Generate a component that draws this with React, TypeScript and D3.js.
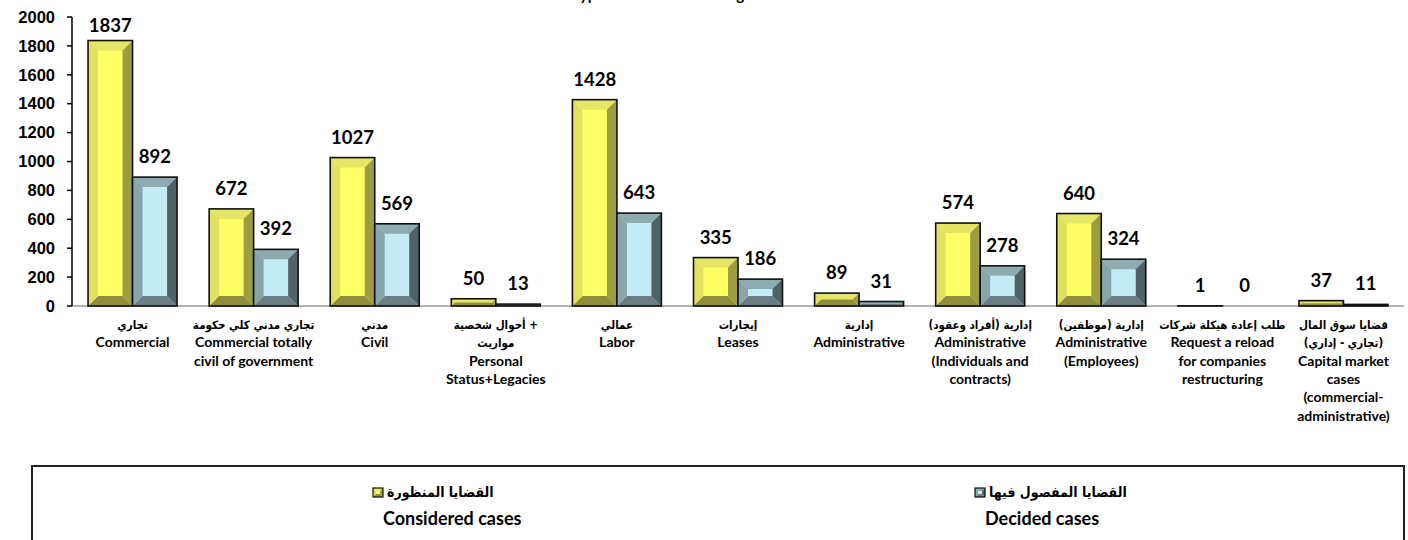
import React, { useLayoutEffect } from "react";
import * as d3 from "d3";

const categories: string[][] = [
  ["تجاري", "Commercial"],
  ["تجاري مدني كلي حكومة", "Commercial totally", "civil of government"],
  ["مدني", "Civil"],
  ["+ أحوال شخصية", "مواريث", "Personal", "Status+Legacies"],
  ["عمالي", "Labor"],
  ["إيجارات", "Leases"],
  ["إدارية", "Administrative"],
  ["إدارية (أفراد وعقود)", "Administrative", "(Individuals and", "contracts)"],
  ["إدارية (موظفين)", "Administrative", "(Employees)"],
  ["طلب إعادة هيكلة شركات", "Request a reload", "for companies", "restructuring"],
  ["قضايا سوق المال", "(تجاري - إداري)", "Capital market", "cases", "(commercial-", "administrative)"],
];
const considered: number[] = [1837, 672, 1027, 50, 1428, 335, 89, 574, 640, 1, 37];
const decided: number[] = [892, 392, 569, 13, 643, 186, 31, 278, 324, 0, 11];
const yTicks: number[] = [0, 200, 400, 600, 800, 1000, 1200, 1400, 1600, 1800, 2000];
const seriesNames = ["considered", "decided"];
const legendArabic = ["القضايا المنظورة", "القضايا المفصول فيها"];
const legendEnglish = ["Considered cases", "Decided cases"];
const title = "Type of Cases in First Degree";

const palettes: Record<string, { face: string; left: string; right: string; top: string; bottom: string }> = {
  considered: { face: "#ffff66", left: "#e0e062", right: "#9c9c42", top: "#e6e666", bottom: "#8e8e3c" },
  decided: { face: "#c3ebf5", left: "#88a5ab", right: "#4f6367", top: "#8eabb1", bottom: "#6a7e84" },
};

const FONT = "Lato, 'DejaVu Sans', sans-serif";
const AR_FONT = "'DejaVu Sans Condensed', 'DejaVu Sans', sans-serif";
const isArabic = (s: string) => /[\u0600-\u06FF]/.test(s);

function BevelBar({ x, y, w, h, pal, bevel = 10, sw = 1.6 }: { x: number; y: number; w: number; h: number; pal: (typeof palettes)["considered"]; bevel?: number; sw?: number }) {
  const b = Math.max(0, Math.min(bevel, h / 2, w / 2));
  const x1 = x + w, y1 = y + h;
  const pts = (a: number[][]) => a.map((p) => p.join(",")).join(" ");
  return (
    <g>
      <rect x={x} y={y} width={w} height={h} fill={pal.face} />
      {b > 0 && (
        <>
          <polygon points={pts([[x, y], [x1, y], [x1 - b, y + b], [x + b, y + b]])} fill={pal.top} />
          <polygon points={pts([[x, y1], [x1, y1], [x1 - b, y1 - b], [x + b, y1 - b]])} fill={pal.bottom} />
          <polygon points={pts([[x, y], [x + b, y + b], [x + b, y1 - b], [x, y1]])} fill={pal.left} />
          <polygon points={pts([[x1, y], [x1 - b, y + b], [x1 - b, y1 - b], [x1, y1]])} fill={pal.right} />
        </>
      )}
      <rect x={x} y={y} width={w} height={h} fill="none" stroke="#111" strokeWidth={sw} />
    </g>
  );
}

export default function App() {
  useLayoutEffect(() => {
    document.body.style.margin = "0";
  }, []);

  const W = 1408, H = 540;
  const left = 72, right = 1404, top = 17, bottom = 306;
  const x = d3.scaleBand<number>().domain(d3.range(categories.length)).range([left, right]).paddingInner(0.265).paddingOuter(0.1325);
  const xs = d3.scaleBand<string>().domain(seriesNames).range([0, x.bandwidth()]);
  const y = d3.scaleLinear().domain([0, 2000]).range([bottom, top]);
  const series = [considered, decided];

  return (
    <svg width={W} height={H} style={{ display: "block", background: "#fff" }} fontFamily={FONT}>
      <text x={572} y={-0.5} fontSize={15} fontWeight="bold" fill="#000">{title}</text>

      {/* baseline */}
      <line x1={left} x2={right} y1={bottom} y2={bottom} stroke="#b4b4b4" strokeWidth={2} />

      {/* y axis */}
      <line x1={left} x2={left} y1={top} y2={bottom} stroke="#000" strokeWidth={1.5} />
      {yTicks.map((t) => (
        <g key={t}>
          <line x1={left - 5} x2={left} y1={y(t)} y2={y(t)} stroke="#000" strokeWidth={1.5} />
          <text x={55} y={y(t)} dy="0.35em" textAnchor="end" fontFamily="'Liberation Sans', Arial, sans-serif" fontWeight="bold" fontSize={16.5} fill="#000">{t}</text>
        </g>
      ))}

      {/* bars */}
      {categories.map((_, i) =>
        series.map((vals, s) => {
          const v = vals[i];
          const bx = (x(i) as number) + (xs(seriesNames[s]) as number);
          const bw = xs.bandwidth();
          const by = y(v);
          return (
            <g key={`${i}-${s}`}>
              <BevelBar x={bx} y={by} w={bw} h={bottom - by} pal={palettes[seriesNames[s]]} />
              <text x={bx + bw / 2} y={Math.max(by - 14, 32)} textAnchor="middle" fontWeight="bold" fontSize={18.5} fill="#000">{v}</text>
            </g>
          );
        })
      )}

      {/* category labels */}
      {categories.map((lines, i) => (
        <g key={i}>
          {lines.map((ln, j) => {
            const ar = isArabic(ln);
            return (
              <text
                key={j}
                x={(x(i) as number) + x.bandwidth() / 2}
                y={329 + j * 18.3}
                textAnchor="middle"
                fontWeight="bold"
                fontFamily={ar ? AR_FONT : FONT}
                fontSize={ar ? 11.5 : 14}
                fill="#000"
                style={{ direction: ar ? "rtl" : "ltr", unicodeBidi: "embed" }}
              >
                {ln}
              </text>
            );
          })}
        </g>
      ))}

      {/* legend */}
      <rect x={32} y={466} width={1372} height={100} fill="#fff" stroke="#222" strokeWidth={2} />
      {seriesNames.map((s, k) => {
        const lx = k === 0 ? 373 : 975;
        const pal = palettes[s];
        return (
          <g key={s}>
            <BevelBar x={lx} y={488} w={10} h={9} pal={pal} bevel={3} sw={1.2} />
            <text x={lx + 14} y={497} textAnchor="end" fontWeight="bold" fontFamily={AR_FONT} fontSize={14} fill="#000" style={{ direction: "rtl", unicodeBidi: "embed" }}>{legendArabic[k]}</text>
            <text x={lx + 10} y={525} fontWeight="bold" fontSize={18} fill="#000">{legendEnglish[k]}</text>
          </g>
        );
      })}
    </svg>
  );
}
